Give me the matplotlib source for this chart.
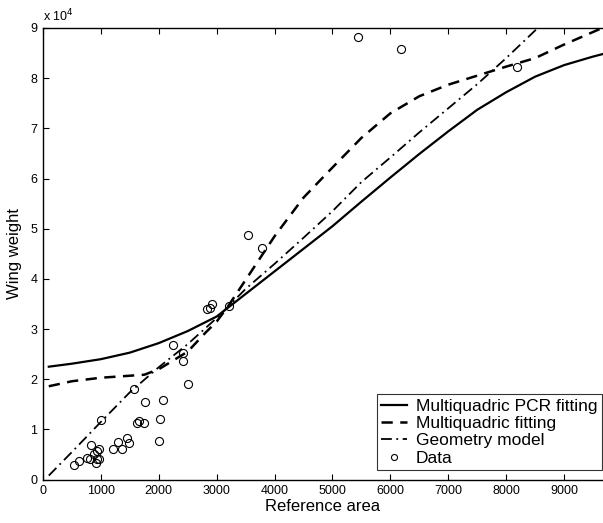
import matplotlib.pyplot as plt
from matplotlib.ticker import FuncFormatter

plt.rcParams["font.family"] = ["Liberation Sans", "DejaVu Sans"]

# ---------------- DATA ---------------- #

data_area = [535, 622, 766, 823, 812, 881, 927, 938, 915, 973, 961, 996,
             1215, 1295, 1359, 1456, 1480, 1577, 1623, 1652, 1744, 1762,
             1998, 2021, 2067, 2240, 2418, 2424, 2499, 2838, 2884, 2913,
             3218, 3541, 3777, 5440, 6183, 8181]
data_weight = [3000, 3800, 4300, 6800, 4100, 5100, 5600, 4200, 3300, 6000, 4200, 11900,
               6100, 7500, 6100, 8200, 7200, 18000, 11300, 11600, 11200, 15400,
               7700, 12100, 15900, 26800, 25300, 23600, 19000, 34000, 34200, 35000,
               34600, 48800, 46200, 88300, 85900, 82300]

pcr_area = [100, 500, 1000, 1500, 2000, 2500, 3000, 3500, 4000, 4500, 5000,
            5500, 6000, 6500, 7000, 7500, 8000, 8500, 9000, 9500, 9700]
pcr_weight = [22500, 23100, 24000, 25300, 27200, 29600, 32500, 37000, 41500, 46000, 50500,
              55400, 60200, 64900, 69400, 73700, 77200, 80300, 82600, 84300, 84900]

mq_area = [100, 500, 1000, 1500, 1750, 2000, 2500, 2800, 3000, 3200, 3500, 4000,
           4500, 5000, 5500, 6000, 6500, 7000, 7500, 8000, 8500, 9000, 9500, 9700]
mq_weight = [18600, 19600, 20300, 20700, 20900, 22000, 25500, 29200, 31500, 34600, 39800, 48500,
             56200, 62200, 68100, 73000, 76400, 78700, 80500, 82300, 84000, 86700, 89200, 90200]

geo_area = [100, 500, 1000, 1500, 2000, 2500, 3000, 3500, 4000, 4500, 5000,
            5500, 6000, 6500, 7000, 7500, 8000, 8500, 9000]
geo_weight = [800, 5500, 11500, 17400, 22400, 27000, 32200, 38000, 43000, 48200, 53500,
              59300, 64200, 69200, 74000, 78800, 84000, 89500, 95000]

# ---------------- PLOT ---------------- #

fig = plt.figure(figsize=(6.03, 5.23), dpi=100)
ax = fig.add_axes([0.0713, 0.0830, 0.9287, 0.8635])

ax.plot(pcr_area, pcr_weight, color="black", linewidth=1.6, linestyle="-",
        label="Multiquadric PCR fitting")
ax.plot(mq_area, mq_weight, color="black", linewidth=1.8, linestyle=(0, (4.5, 3)),
        label="Multiquadric fitting")
ax.plot(geo_area, geo_weight, color="black", linewidth=1.3, linestyle=(0, (6, 2.5, 1, 2.5)),
        label="Geometry model")
ax.plot(data_area, data_weight, linestyle="none", marker="o", markersize=5.8,
        markerfacecolor="none", markeredgecolor="black", markeredgewidth=0.8,
        label="Data")

ax.set_xlim(0, 9672)
ax.set_ylim(0, 90000)
ax.set_xticks(range(0, 9001, 1000))
ax.set_yticks(range(0, 90001, 10000))
ax.yaxis.set_major_formatter(FuncFormatter(lambda v, p: f"{v / 10000:.0f}"))

ax.tick_params(direction="in", length=4, width=0.8, labelsize=9,
               top=True, right=False, pad=4)
ax.spines["right"].set_visible(False)
for s in ["left", "bottom", "top"]:
    ax.spines[s].set_linewidth(1.0)

ax.set_xlabel("Reference area", fontsize=12, labelpad=1)
ax.set_ylabel("Wing weight", fontsize=12, labelpad=6)

ax.text(0.0, 1.008, r"x 10$^{4}$", transform=ax.transAxes, fontsize=9,
        ha="left", va="bottom")

legend = ax.legend(loc="lower left", bbox_to_anchor=(377 / 603, 53 / 523),
                   bbox_transform=fig.transFigure, borderaxespad=0,
                   fontsize=12.5, frameon=True, fancybox=False,
                   edgecolor="black", handlelength=1.5, markerscale=0.75,
                   handletextpad=0.5, labelspacing=0.12, borderpad=0.25)
legend.get_frame().set_linewidth(0.8)

plt.savefig("out.png", dpi=100)
